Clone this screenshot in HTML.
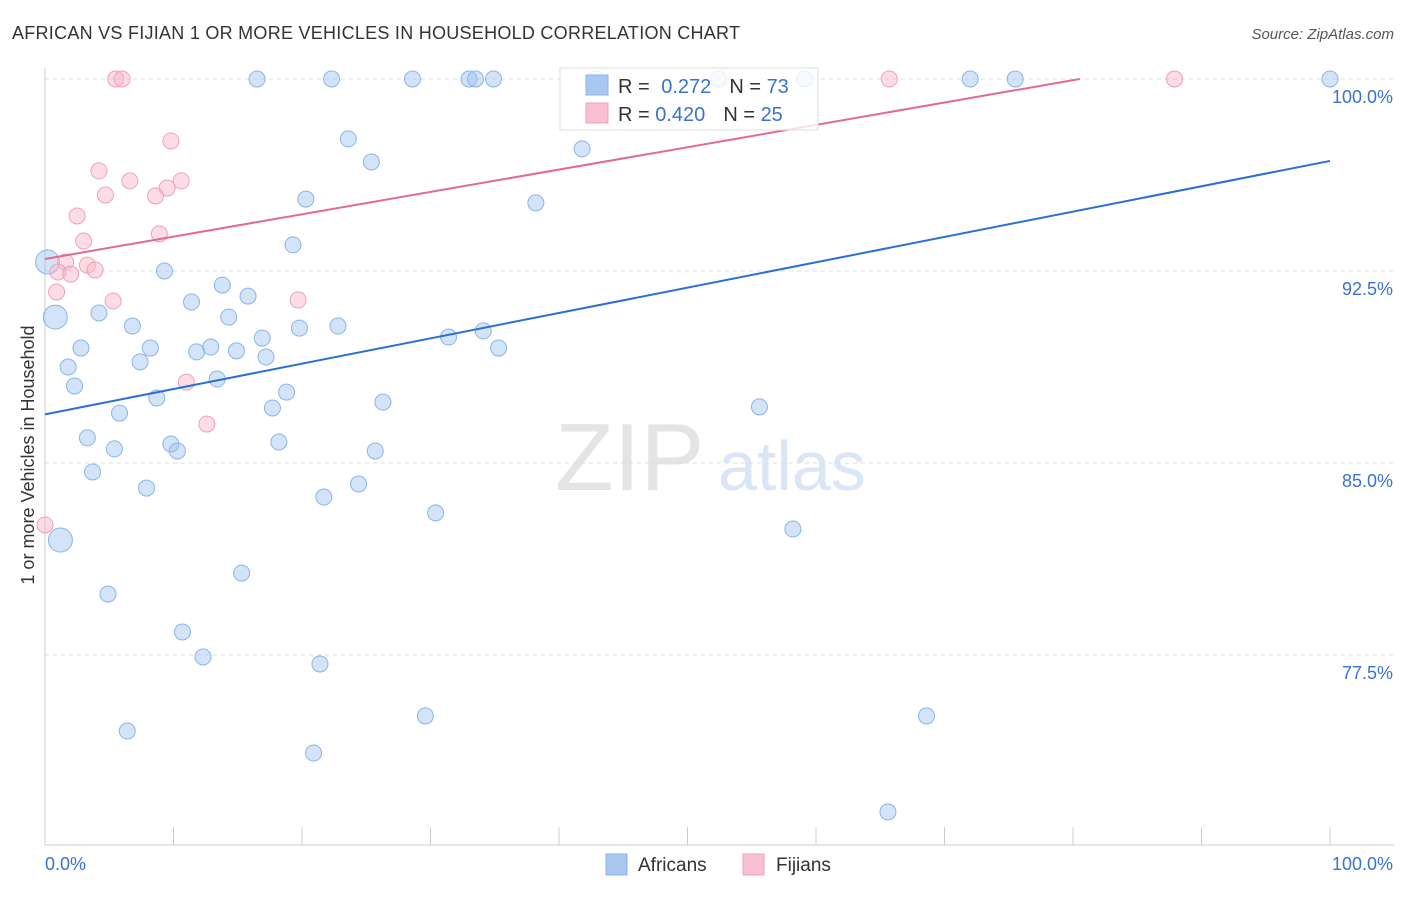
<!DOCTYPE html>
<html><head><meta charset="utf-8"><style>
body{margin:0;background:#fff;font-family:"Liberation Sans",sans-serif}
svg text{font-family:"Liberation Sans",sans-serif}
</style></head><body>
<svg id="chart" width="1406" height="892">
<text x="12" y="39" font-size="18" fill="#333" textLength="728">AFRICAN VS FIJIAN 1 OR MORE VEHICLES IN HOUSEHOLD CORRELATION CHART</text>
<text x="1394" y="39" font-size="15" fill="#555" font-style="italic" text-anchor="end">Source: ZipAtlas.com</text>
<text x="555" y="490" font-size="96" fill="#e4e4e4" font-family="Liberation Serif">ZIP</text>
<text x="718" y="490" font-size="70" fill="#dbe6f5">atlas</text>
<text transform="translate(34,455) rotate(-90)" font-size="18" fill="#333" text-anchor="middle">1 or more Vehicles in Household</text>
<g id="grid"></g><g id="marks"></g>
<g>
<rect x="560" y="68" width="258" height="62" fill="#fff" fill-opacity="0.8" stroke="#ddd"/>
<rect x="586" y="75" width="22" height="20" fill="#a8c8f0" stroke="#8ab4e8"/>
<rect x="586" y="103" width="22" height="20" fill="#f8c0d0" stroke="#f0a0b8"/>
<text x="618" y="93" font-size="20" fill="#333">R = <tspan fill="#3a72d0" dx="6">0.272</tspan><tspan dx="18">N = </tspan><tspan fill="#3a72d0">73</tspan></text>
<text x="618" y="121" font-size="20" fill="#333">R = <tspan fill="#3a72d0">0.420</tspan><tspan dx="18">N = </tspan><tspan fill="#3a72d0">25</tspan></text>
</g>
<g>
<rect x="606" y="854" width="21" height="21" fill="#a8c8f0" stroke="#8ab4e8"/>
<text x="638" y="871" font-size="19" fill="#333">Africans</text>
<rect x="743" y="854" width="21" height="21" fill="#f8c0d0" stroke="#f0a0b8"/>
<text x="776" y="871" font-size="19" fill="#333">Fijians</text>
</g>
</svg>
<script>
const yTicks=[100,92.5,85,77.5];
const yTickLabels=["100.0%","92.5%","85.0%","77.5%"];
const xTickLabels=["0.0%","100.0%"];
const afrX=[16.5,22.3,28.6,33.0,33.5,34.9,42.9,52.4,59.1,72.0,75.5,100,23.6,25.4,41.8,20.3,38.2,19.3,9.3,13.8,15.8,11.4,4.2,14.3,6.8,19.8,22.8,16.9,31.4,34.1,2.8,8.2,11.8,12.9,14.9,17.2,35.3,7.4,1.8,2.3,13.4,18.8,8.7,26.3,17.7,5.8,55.6,3.3,9.8,5.4,10.3,18.2,25.7,3.7,7.9,24.4,21.7,30.4,58.2,1.2,15.3,4.9,10.7,12.3,21.4,29.6,68.6,6.4,20.9,65.6,0.8,0.2];
const afrY=[100,100,100,100,100,100,100,100,100,100,100,100,97.66,96.76,97.27,95.31,95.16,93.52,92.5,91.95,91.52,91.29,90.86,90.70,90.35,90.27,90.35,89.88,89.92,90.16,89.49,89.49,89.34,89.53,89.38,89.14,89.49,88.95,88.75,88.01,88.28,87.77,87.54,87.38,87.15,86.95,87.19,85.98,85.74,85.55,85.47,85.82,85.47,84.65,84.02,84.18,83.67,83.05,82.42,81.99,80.70,79.88,78.40,77.42,77.15,75.12,75.12,74.53,73.67,71.37,90.70,92.85];
const afrBig=[59,70,71];
const fijX=[5.5,6.0,65.7,87.9,9.8,4.2,6.6,10.6,4.7,9.5,8.6,2.5,8.9,3.0,1.6,3.3,3.9,1.0,2.0,0.9,5.3,19.7,11.0,12.6,0];
const fijY=[100,100,100,100,97.58,96.41,96.02,96.02,95.47,95.74,95.43,94.65,93.95,93.67,92.85,92.73,92.54,92.46,92.38,91.68,91.33,91.37,88.16,86.52,82.58];
const trendAfr=[86.9,96.8];
const trendFij=[92.97,101.7];
const X0=45,X1=1330,Y100=79,PX=25.6,YB=845;
const sx=v=>X0+(X1-X0)*v/100, sy=v=>Y100+(100-v)*PX;
const NS="http://www.w3.org/2000/svg";
const grid=document.getElementById('grid'), marks=document.getElementById('marks');
function mk(p,tag,a){const e=document.createElementNS(NS,tag);for(const k in a)e.setAttribute(k,a[k]);p.appendChild(e);return e;}
yTicks.forEach((t,i)=>{
 const l=mk(grid,'line',{x1:X0,x2:1394,y1:sy(t),y2:sy(t),stroke:'#ddd','stroke-dasharray':'4,4'});
 
 
 const tx=mk(grid,'text',{x:1393,y:sy(t)+24,'font-size':18,fill:'#3a72d0','text-anchor':'end'});
 tx.textContent=yTickLabels[i];
 
 
});
mk(grid,'line',{x1:X0,x2:X0,y1:68,y2:YB,stroke:'#ccc'});
mk(grid,'line',{x1:X0,x2:1394,y1:YB,y2:YB,stroke:'#ccc'});
for(let i=1;i<=10;i++){mk(grid,'line',{x1:sx(i*10),x2:sx(i*10),y1:827,y2:YB,stroke:'#ccc'});}
[[0,'start',45],[100,'end',1393]].forEach((d,i)=>{
 const t=mk(grid,'text',{x:d[2],y:870,'font-size':18,fill:'#3a72d0','text-anchor':d[1]});
 t.textContent=xTickLabels[i];
 
 
});
afrX.forEach((x,i)=>{
 const c=mk(marks,'circle',{cx:sx(x),cy:sy(afrY[i]),r:afrBig.includes(i)?12:8,fill:'rgba(160,196,240,0.45)',stroke:'#8ab4e8'});
 
 
});
fijX.forEach((x,i)=>{
 const c=mk(marks,'circle',{cx:sx(x),cy:sy(fijY[i]),r:8,fill:'rgba(248,180,200,0.45)',stroke:'#f0a0b8'});
 
 
});
const la=mk(marks,'line',{x1:sx(0),y1:sy(trendAfr[0]),x2:sx(100),y2:sy(trendAfr[1]),stroke:'#2a6fd6','stroke-width':2});


const slope=(trendFij[1]-trendFij[0])/100, xe=Math.min(100,(100-trendFij[0])/slope);
const lf=mk(marks,'line',{x1:sx(0),y1:sy(trendFij[0]),x2:sx(xe),y2:sy(trendFij[0]+slope*xe),stroke:'#e26a92','stroke-width':2});


</script>
</body></html>
